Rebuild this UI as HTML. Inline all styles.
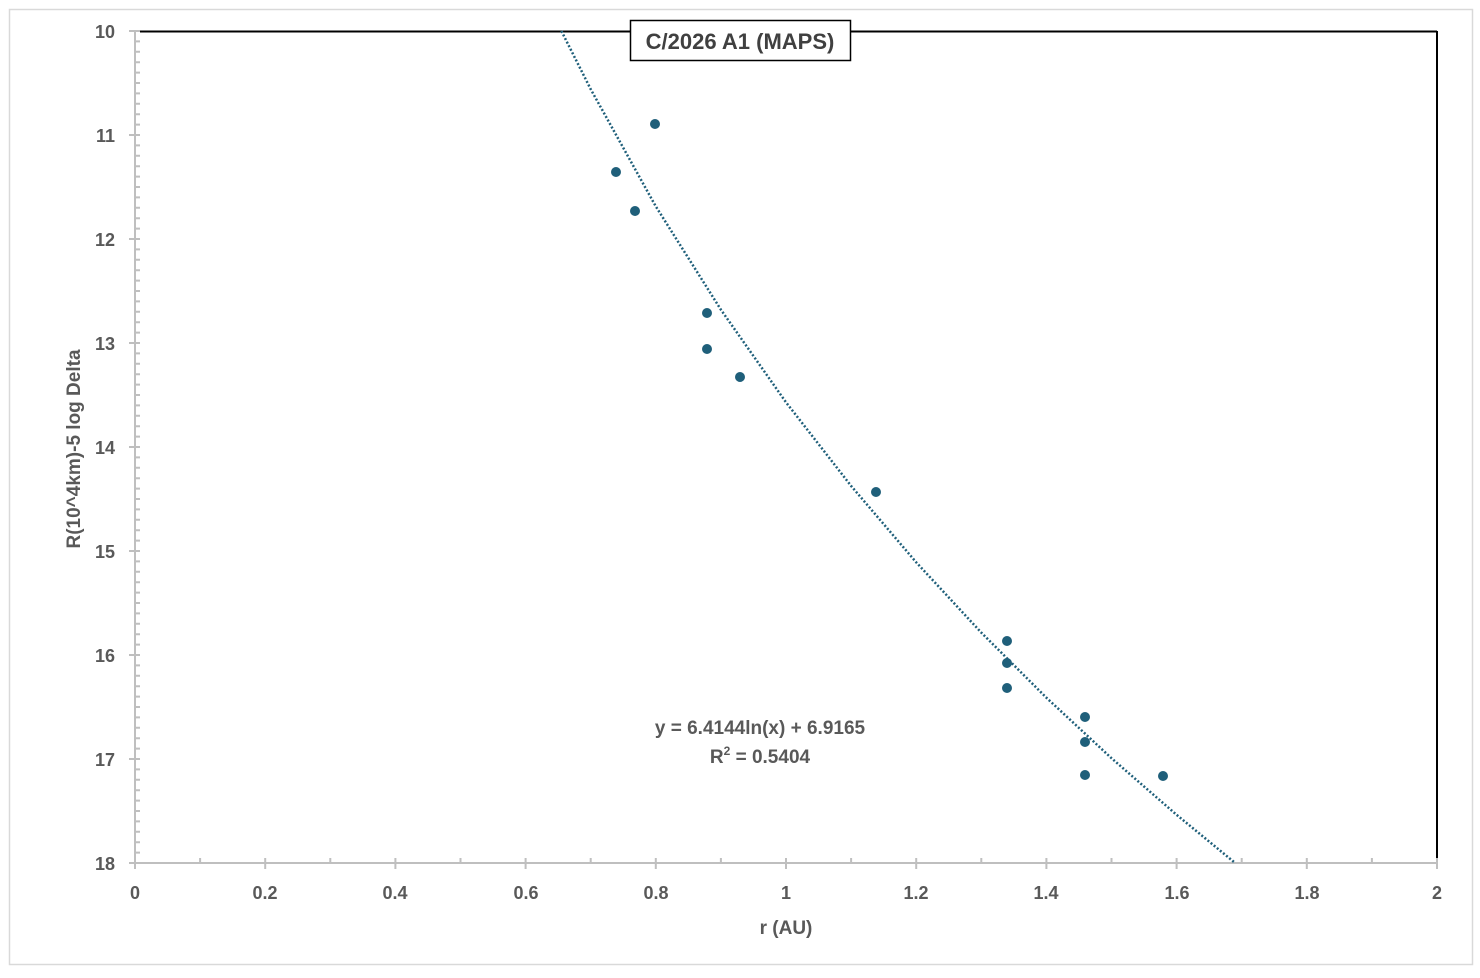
<!DOCTYPE html>
<html><head><meta charset="utf-8"><style>
body{margin:0;background:#fff;}
svg text{font-family:"Liberation Sans",sans-serif;font-weight:bold;fill:#595959;}
</style></head><body>
<svg width="1480" height="973" viewBox="0 0 1480 973">
<rect x="9.5" y="9.5" width="1463" height="955" fill="#fff" stroke="#d9d9d9" stroke-width="1.5"/>
<line x1="140" y1="31.5" x2="1437" y2="31.5" stroke="#000" stroke-width="2"/>
<line x1="1437" y1="31" x2="1437" y2="860" stroke="#000" stroke-width="2"/>
<g stroke="#bfbfbf">
<line x1="135" y1="31" x2="135" y2="863" stroke-width="2"/>
<line x1="135" y1="863" x2="1437" y2="863" stroke-width="2"/>
<line x1="137.5" y1="30" x2="137.5" y2="864" stroke-width="5" stroke-dasharray="2 8.4"/>
<line x1="132" y1="30" x2="132" y2="864" stroke-width="6" stroke-dasharray="2 102"/>
<line x1="134" y1="860.5" x2="1438" y2="860.5" stroke-width="5" stroke-dasharray="2 63.1"/>
<line x1="134" y1="866" x2="1438" y2="866" stroke-width="6" stroke-dasharray="2 128.2"/>
</g>
<g font-size="18" text-anchor="end">
<text x="115" y="38">10</text><text x="115" y="142">11</text><text x="115" y="246">12</text><text x="115" y="350">13</text>
<text x="115" y="454">14</text><text x="115" y="558">15</text><text x="115" y="662">16</text><text x="115" y="766">17</text><text x="115" y="870">18</text>
</g>
<g font-size="18" text-anchor="middle">
<text x="135" y="899">0</text><text x="265" y="899">0.2</text><text x="395" y="899">0.4</text><text x="526" y="899">0.6</text>
<text x="656" y="899">0.8</text><text x="786" y="899">1</text><text x="916" y="899">1.2</text><text x="1046" y="899">1.4</text>
<text x="1177" y="899">1.6</text><text x="1307" y="899">1.8</text><text x="1437" y="899">2</text>
<text x="786" y="934" font-size="19">r (AU)</text>
<text transform="translate(80,449) rotate(-90)" font-size="19">R(10^4km)-5 log Delta</text>
<text x="760" y="734" font-size="19">y = 6.4144ln(x) + 6.9165</text>
<text x="760" y="763" font-size="19">R<tspan font-size="12" dy="-8">2</tspan><tspan dy="8"> = 0.5404</tspan></text>
</g>
<polyline fill="none" stroke="#1f5f7a" stroke-width="2.5" stroke-dasharray="2 2"
points="561.4,31 590.7,89.2 655.8,206.4 720.9,309.7 786,402.3 851.1,485.9 916.2,562.3 981.3,632.6 1046.4,697.7 1111.5,758.2 1176.6,814.8 1235.2,863"/>
<g fill="#1f5f7a">
<circle cx="616" cy="172" r="5"/><circle cx="655" cy="124" r="5"/><circle cx="635" cy="211" r="5"/>
<circle cx="707" cy="313" r="5"/><circle cx="707" cy="349" r="5"/><circle cx="740" cy="377" r="5"/>
<circle cx="876" cy="492" r="5"/><circle cx="1007" cy="641" r="5"/><circle cx="1007" cy="663" r="5"/>
<circle cx="1007" cy="688" r="5"/><circle cx="1085" cy="717" r="5"/><circle cx="1085" cy="742" r="5"/>
<circle cx="1085" cy="775" r="5"/><circle cx="1163" cy="776" r="5"/>
</g>
<rect x="630.5" y="20.5" width="220" height="40" fill="#fff" stroke="#000" stroke-width="1.5"/>
<text x="740" y="49" font-size="22" text-anchor="middle" style="fill:#404040">C/2026 A1 (MAPS)</text>
</svg>
</body></html>
